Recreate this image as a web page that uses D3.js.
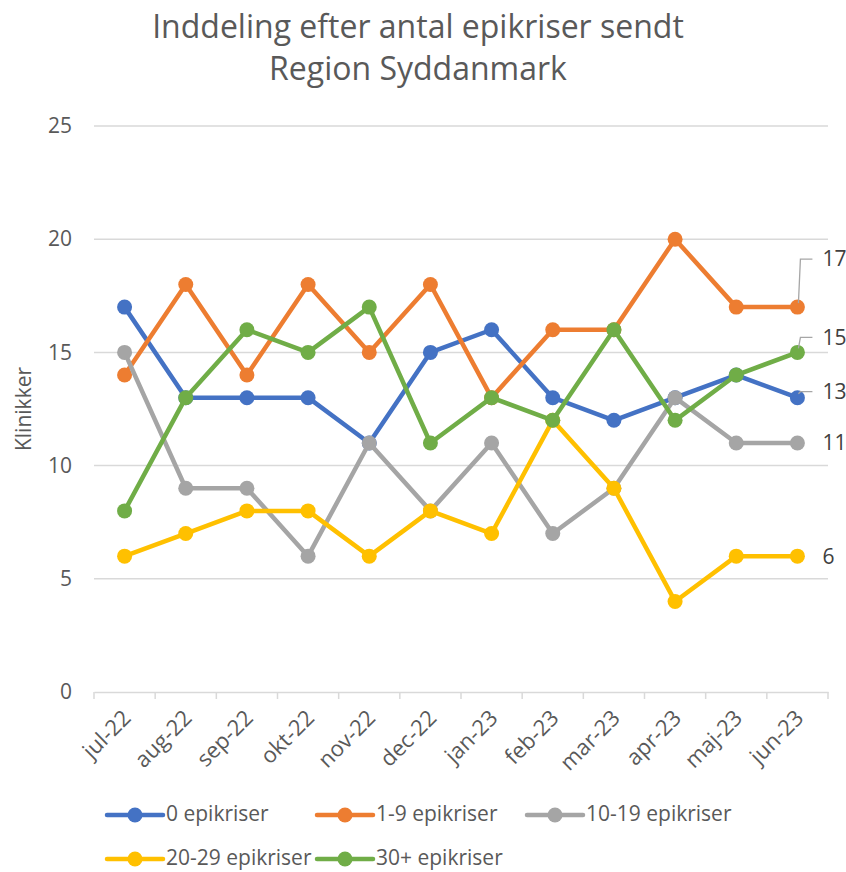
<!DOCTYPE html>
<head>
<meta charset="utf-8">
<style>
  body { margin: 0; background: #fff; }
  svg { font-family: "Open Sans", sans-serif; }
  .grid line { stroke: #d9d9d9; stroke-width: 1.5px; }
  .axis path, .axis line { stroke: #d9d9d9; stroke-width: 1.5px; }
  .series-line { fill: none; stroke-width: 4.5px; stroke-linejoin: round; }
</style>
<script src="https://d3js.org/d3.v7.min.js"></script>
</head>
<body>
<div id="chart"></div>
<script>
var months = ["jul-22", "aug-22", "sep-22", "okt-22", "nov-22", "dec-22",
              "jan-23", "feb-23", "mar-23", "apr-23", "maj-23", "jun-23"];
var seriesNames = ["0 epikriser", "1-9 epikriser", "10-19 epikriser", "20-29 epikriser", "30+ epikriser"];
var colors = ["#4472c4", "#ed7d31", "#a5a5a5", "#ffc000", "#70ad47"];
var v0 = [17, 13, 13, 13, 11, 15, 16, 13, 12, 13, 14, 13];
var v1_9 = [14, 18, 14, 18, 15, 18, 13, 16, 16, 20, 17, 17];
var v10_19 = [15, 9, 9, 6, 11, 8, 11, 7, 9, 13, 11, 11];
var v20_29 = [6, 7, 8, 8, 6, 8, 7, 12, 9, 4, 6, 6];
var v30 = [8, 13, 16, 15, 17, 11, 13, 12, 16, 12, 14, 15];
var yTicks = [0, 5, 10, 15, 20, 25];

var allValues = [v0, v1_9, v10_19, v20_29, v30];

var width = 846, height = 872;
var margin = { top: 126, right: 18, bottom: 180, left: 94 };
var innerW = width - margin.left - margin.right,
    innerH = height - margin.top - margin.bottom;
var textColor = "#595959";

var svg = d3.select("#chart").append("svg")
  .attr("width", width).attr("height", height);

var g = svg.append("g")
  .attr("transform", "translate(" + margin.left + "," + margin.top + ")");

var x = d3.scaleBand().domain(months).range([0, innerW]);
var y = d3.scaleLinear().domain([0, 25]).range([innerH, 0]);
var cx = function (m) { return x(m) + x.bandwidth() / 2; };

// title
svg.append("text")
  .attr("x", 418).attr("y", 38)
  .attr("text-anchor", "middle")
  .attr("fill", textColor).style("font-size", "32px")
  .text("Inddeling efter antal epikriser sendt");
svg.append("text")
  .attr("x", 418).attr("y", 80)
  .attr("text-anchor", "middle")
  .attr("fill", textColor).style("font-size", "32px")
  .text("Region Syddanmark");

// gridlines
g.append("g").attr("class", "grid")
  .selectAll("line").data(yTicks.slice(1)).enter().append("line")
  .attr("x1", 0).attr("x2", innerW)
  .attr("y1", function (d) { return y(d); })
  .attr("y2", function (d) { return y(d); });

// y axis
var yAxis = g.append("g").attr("class", "axis")
  .call(d3.axisLeft(y).tickValues(yTicks).tickSize(0).tickPadding(22));
yAxis.attr("font-family", null).attr("font-size", null);
yAxis.select(".domain").remove();
yAxis.selectAll(".tick text")
  .attr("fill", textColor).style("font-size", "21px");

// x axis
var xAxis = g.append("g").attr("class", "axis")
  .attr("transform", "translate(0," + innerH + ")")
  .call(d3.axisBottom(x).tickSize(0).tickSizeOuter(0));
xAxis.attr("font-family", null).attr("font-size", null);
xAxis.selectAll(".tick text")
  .attr("fill", textColor).style("font-size", "22px")
  .attr("text-anchor", "end")
  .attr("y", 0).attr("dy", "0.35em")
  .attr("transform", "translate(2,22) rotate(-45)");
xAxis.selectAll(".edge").data(d3.range(months.length + 1)).enter()
  .append("line")
  .attr("x1", function (i) { return i * x.step(); })
  .attr("x2", function (i) { return i * x.step(); })
  .attr("y1", 0).attr("y2", 7);

// y axis title
svg.append("text")
  .attr("transform", "translate(24," + (margin.top + innerH / 2) + ") rotate(-90)")
  .attr("text-anchor", "middle")
  .attr("dy", "0.35em")
  .attr("fill", textColor).style("font-size", "21px")
  .text("Klinikker");

// series
var line = d3.line()
  .x(function (d, i) { return cx(months[i]); })
  .y(function (d) { return y(d); });

allValues.forEach(function (vals, s) {
  var sg = g.append("g");
  sg.append("path").attr("class", "series-line")
    .attr("d", line(vals)).attr("stroke", colors[s]);
  sg.selectAll("circle").data(vals).enter().append("circle")
    .attr("cx", function (d, i) { return cx(months[i]); })
    .attr("cy", function (d) { return y(d); })
    .attr("r", 7.5).attr("fill", colors[s]);
});

// end labels
var last = months.length - 1;
var lastX = cx(months[last]);
var labelInfo = [
  { s: 0, dy: -6, leader: true },
  { s: 1, dy: -48, leader: true },
  { s: 2, dy: 0, leader: false },
  { s: 3, dy: 0, leader: false },
  { s: 4, dy: -15, leader: true }
];
labelInfo.forEach(function (li) {
  var v = allValues[li.s][last];
  var py = y(v);
  var ly = py + li.dy;
  if (li.leader) {
    g.append("path")
      .attr("d", "M" + (lastX + 1) + "," + (py - 4) + "L" + (lastX + 3) + "," + ly + "L" + (lastX + 15) + "," + ly)
      .attr("fill", "none").attr("stroke", "#a6a6a6").attr("stroke-width", 1.3);
  }
  g.append("text")
    .attr("x", lastX + 25).attr("y", ly)
    .attr("dy", "0.35em")
    .attr("fill", "#404040").style("font-size", "21px")
    .text(v);
});

// legend
var legendPos = [
  { x: 107, y: 815 }, { x: 317, y: 815 }, { x: 527, y: 815 },
  { x: 107, y: 859 }, { x: 317, y: 859 }
];
seriesNames.forEach(function (name, s) {
  var p = legendPos[s];
  var lg = svg.append("g").attr("transform", "translate(" + p.x + "," + p.y + ")");
  lg.append("line").attr("x1", 0).attr("x2", 56).attr("y1", 0).attr("y2", 0)
    .attr("stroke", colors[s]).attr("stroke-width", 4.5).attr("stroke-linecap", "round");
  lg.append("circle").attr("cx", 28).attr("cy", 0).attr("r", 7.5).attr("fill", colors[s]);
  lg.append("text").attr("x", 59).attr("y", 0).attr("dy", "0.3em")
    .attr("fill", textColor).style("font-size", "21px")
    .text(name);
});
</script>
</body>
